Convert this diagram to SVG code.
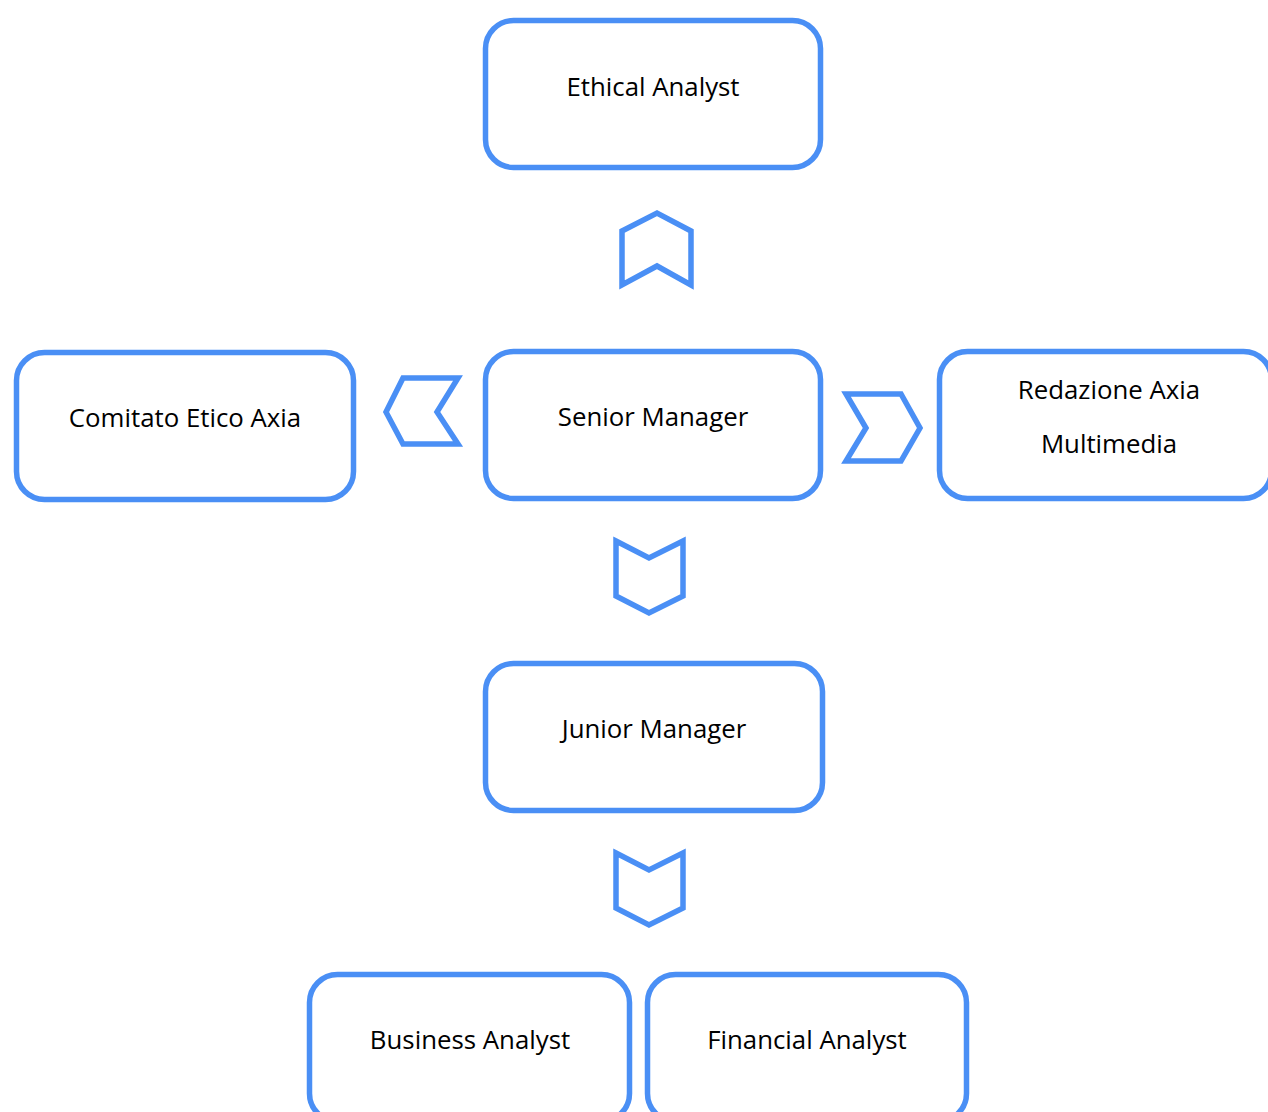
<svg xmlns="http://www.w3.org/2000/svg" width="1268" height="1112" viewBox="0 0 1268 1112">
<style>
.box{fill:#fff;stroke:#4a8ff5;stroke-width:5.5}
.arr{fill:#fff;stroke:#4a8ff5;stroke-width:5.5;stroke-linejoin:miter}
text{font-family:"Open Sans","Noto Sans",sans-serif;font-size:25.8px;fill:#000;text-anchor:middle}
</style>
<rect width="1268" height="1112" fill="#fff"/>
<g id="connectors">
<polygon class="arr" points="622,231 657,213 691,231 691,285 657,266 622,285"/>
<polygon class="arr" points="403,378 458,378 437,412 458,444 403,444 386,412"/>
<polygon class="arr" points="846,394 901,394 920,428 901,461 846,461 866,428"/>
<polygon class="arr" points="616,541 649,558 683,541 683,596 649,613 616,596"/>
<polygon class="arr" points="616,853 649,870 683,853 683,908 649,925 616,908"/>
</g>
<g id="ethical"><rect class="box" x="485.5" y="20.5" width="335" height="147" rx="28"/><text x="653" y="96">Ethical Analyst</text></g>
<g id="comitato"><rect class="box" x="16.5" y="352.5" width="337" height="147" rx="28"/><text x="185" y="427">Comitato Etico Axia</text></g>
<g id="senior"><rect class="box" x="485.5" y="351.5" width="335" height="147" rx="28"/><text x="653" y="426">Senior Manager</text></g>
<g id="redazione"><rect class="box" x="939.5" y="351.5" width="332" height="147" rx="28"/><text x="1109" y="399">Redazione Axia</text><text x="1109" y="453">Multimedia</text></g>
<g id="junior"><rect class="box" x="485.5" y="663.5" width="337" height="147" rx="28"/><text x="654" y="738">Junior Manager</text></g>
<g id="business"><rect class="box" x="309.5" y="974.5" width="320" height="147" rx="28"/><text x="470" y="1049">Business Analyst</text></g>
<g id="financial"><rect class="box" x="647.5" y="974.5" width="319" height="147" rx="28"/><text x="807" y="1049">Financial Analyst</text></g>
</svg>
